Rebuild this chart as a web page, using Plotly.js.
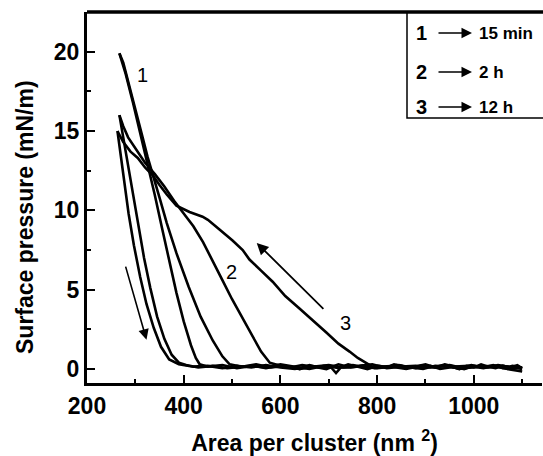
<!DOCTYPE html>
<html>
<head>
<meta charset="utf-8">
<script src="https://cdn.plot.ly/plotly-3.0.1.min.js"></script>
<style>html,body{margin:0;padding:0;background:#fff;}#chart{width:543px;height:456px;}</style>
</head>
<body>
<div id="chart"></div>
<script>
// Curve 1 (15 min) compression and expansion
var c1CompX = [1095,1070,1045,1020,995,970,945,920,895,870,845,820,795,770,745,720,695,670,645,620,595,570,545,520,495,480,460,435,410,385,365,350,336,325,315,305,295,285,275,267];
var c1CompY = [0.15,0.0,0.2,0.1,0.25,0.05,0.15,0.2,0.0,0.1,0.25,0.15,0.05,0.2,0.1,0.3,0.0,0.15,0.25,0.1,0.2,0.05,0.2,0.15,0.3,0.8,1.8,3.3,5.2,7.3,9.2,10.8,12.2,13.4,14.6,15.8,17.0,18.2,19.3,19.9];
var c1ExpX = [267,280,295,310,325,340,355,370,385,400,415,425,433,450,480,510,540,570,600,630,660,690,720,750,780,810,840,870,900,930,960,990,1020,1050,1080,1100];
var c1ExpY = [19.9,18.6,16.8,14.9,13.0,11.0,8.9,6.8,4.8,3.0,1.5,0.7,0.3,0.15,0.25,0.05,0.2,0.1,0.3,0.15,0.0,0.2,0.1,0.25,0.05,0.15,0.2,0.1,0.3,0.0,0.15,0.2,0.05,0.25,0.1,0.0];
// Curve 2 (2 h)
var c2CompX = [1100,1080,1060,1040,1020,1000,980,960,940,920,900,880,860,840,820,800,780,760,740,720,700,680,660,640,620,600,578,560,540,520,500,480,460,440,420,400,380,360,340,320,300,285,275,267];
var c2CompY = [0.1,0.2,0.05,0.25,0.1,0.2,0.0,0.15,0.3,0.1,0.2,0.05,0.15,0.25,0.1,0.2,0.0,0.15,0.3,0.05,0.2,0.1,0.25,0.0,0.15,0.2,0.4,1.1,2.2,3.3,4.4,5.6,6.8,8.0,9.0,9.8,10.6,11.5,12.3,13.0,13.9,14.6,15.3,16.0];
var c2ExpX = [267,275,285,295,306,318,331,345,360,375,390,405,430,460,490,520,550,580,610,640,670,700,730,760,790,820,850,880,910,940,970,1000,1030,1060,1090];
var c2ExpY = [16.0,14.6,12.8,10.9,9.0,7.0,5.1,3.3,1.9,0.9,0.4,0.25,0.1,0.2,0.05,0.15,0.3,0.1,0.2,0.0,0.15,0.25,0.1,0.2,0.3,0.05,0.15,0.2,0.1,0.25,0.0,0.15,0.1,0.2,0.05];
// Curve 3 (12 h)
var c3CompX = [1100,1090,1075,1060,1045,1030,1015,1000,985,970,955,940,925,910,895,880,865,850,835,820,805,790,778,760,743,720,695,670,640,610,584,560,536,522,501,474,450,439,412,385,365,350,336,320,305,290,275,263];
var c3CompY = [0.05,0.25,0.1,0.2,0.05,0.15,0.3,0.1,0.2,0.0,0.15,0.25,0.1,0.2,0.05,0.15,0.1,0.2,0.3,0.1,0.2,0.15,0.35,0.7,1.1,1.6,2.3,3.0,3.8,4.6,5.5,6.2,6.9,7.5,8.1,8.8,9.4,9.6,9.9,10.3,11.0,11.6,12.2,12.7,13.3,13.7,14.3,15.0];
var c3ExpX = [263,268,276,286,297,310,323,338,353,370,390,420,450,480,510,540,570,600,630,660,690,705,715,725,740,770,800,830,860,890,920,950,980,1010,1040,1070,1100];
var c3ExpY = [15.0,13.8,11.9,9.8,7.8,5.8,4.1,2.6,1.4,0.6,0.3,0.15,0.2,0.05,0.2,0.1,0.25,0.1,0.0,0.2,0.1,0.1,-0.25,0.1,0.1,0.2,0.05,0.15,0.0,0.2,0.1,0.25,0.05,0.15,0.2,0.0,-0.15];

var curveLabels = ['1','2','3'];
var legendTimes = ['15 min','2 h','12 h'];

var lineStyle = {color:'#000', width:2.6};
var series = [[c1CompX,c1CompY],[c1ExpX,c1ExpY],[c2CompX,c2CompY],[c2ExpX,c2ExpY],[c3CompX,c3CompY],[c3ExpX,c3ExpY]];
var traces = series.map(function(s){
  return {x:s[0], y:s[1], type:'scatter', mode:'lines', line:lineStyle, hoverinfo:'skip', showlegend:false};
});

var F = 'Arial, "Liberation Sans", sans-serif';
var pw = 543-87-1, ph = 456-12-73;
function px2paperX(p){ return (p-87)/pw; }
function px2paperY(p){ return (383-p)/ph; }

var annotations = [];
// curve labels
var labPos = [[314,18.5],[498,6.1],[734,2.9]];
curveLabels.forEach(function(t,i){
  annotations.push({x:labPos[i][0], y:labPos[i][1], xref:'x', yref:'y', xanchor:'center', yanchor:'middle', text:t, showarrow:false,
    font:{family:F, size:20, color:'#000'}});
});
// direction arrows
annotations.push({x:323, y:1.85, ax:279, ay:6.55, xref:'x', yref:'y', axref:'x', ayref:'y', text:'', showarrow:true,
  arrowhead:2, arrowsize:1.3, arrowwidth:1.6, arrowcolor:'#000'});
annotations.push({x:551, y:7.95, ax:692, ay:3.7, xref:'x', yref:'y', axref:'x', ayref:'y', text:'', showarrow:true,
  arrowhead:2, arrowsize:1.3, arrowwidth:1.8, arrowcolor:'#000'});
// legend box entries
var rowPx = [33, 72, 107];
curveLabels.forEach(function(t,i){
  var yy = px2paperY(rowPx[i]);
  annotations.push({x:px2paperX(421), y:yy, xref:'paper', yref:'paper', xanchor:'center', yanchor:'middle', text:'<b>'+t+'</b>', showarrow:false,
    font:{family:F, size:20, color:'#000'}});
  annotations.push({x:px2paperX(472), y:yy, xref:'paper', yref:'paper', ax:-35, ay:0, text:'', showarrow:true,
    arrowhead:2, arrowsize:1.5, arrowwidth:1.4, arrowcolor:'#000'});
  annotations.push({x:px2paperX(477), y:yy, xref:'paper', yref:'paper', xanchor:'left', yanchor:'middle', text:'<b>'+legendTimes[i]+'</b>', showarrow:false,
    font:{family:F, size:17, color:'#000'}});
});
// y title as annotation
annotations.push({x:px2paperX(25), y:px2paperY(217), xref:'paper', yref:'paper', xanchor:'center', yanchor:'middle',
  text:'<b>Surface pressure (mN/m)</b>', showarrow:false, textangle:-90,
  font:{family:F, size:23, color:'#000'}});

var layout = {
  width:543, height:456,
  margin:{l:87, r:1, t:12, b:73, pad:0},
  paper_bgcolor:'#fff', plot_bgcolor:'#fff',
  xaxis:{range:[200,1141], tickvals:[200,400,600,800,1000], ticktext:['200','400','600','800','1000'],
    ticks:'inside', ticklen:8, tickwidth:2, tickcolor:'#000',
    minor:{tickvals:[300,500,700,900,1100], ticks:'inside', ticklen:4, tickwidth:2, tickcolor:'#000'},
    showline:true, linewidth:3, linecolor:'#000', mirror:false, showgrid:false, zeroline:false,
    tickfont:{family:F, size:23, color:'#000', weight:'bold'},
    title:{text:'<b>Area per cluster (nm <sup>2</sup>)</b>', font:{family:F, size:23, color:'#000'}, standoff:22}},
  yaxis:{range:[-0.88,22.5], tickvals:[0,5,10,15,20],
    ticks:'inside', ticklen:8, tickwidth:2, tickcolor:'#000',
    minor:{tickvals:[2.5,7.5,12.5,17.5], ticks:'inside', ticklen:4, tickwidth:2, tickcolor:'#000'},
    showline:true, linewidth:3, linecolor:'#000', showgrid:false, zeroline:false,
    tickfont:{family:F, size:23, color:'#000', weight:'bold'}},
  shapes:[
    {type:'line', xref:'paper', yref:'paper', x0:0, x1:1.01, y0:1, y1:1, line:{color:'#000', width:3.5}},
    {type:'rect', xref:'paper', yref:'paper', x0:px2paperX(407), x1:1.01, y0:px2paperY(118), y1:1, line:{color:'#000', width:1.5}}
  ],
  annotations:annotations
};

Plotly.newPlot('chart', traces, layout, {displayModeBar:false, staticPlot:true});
</script>
</body>
</html>
